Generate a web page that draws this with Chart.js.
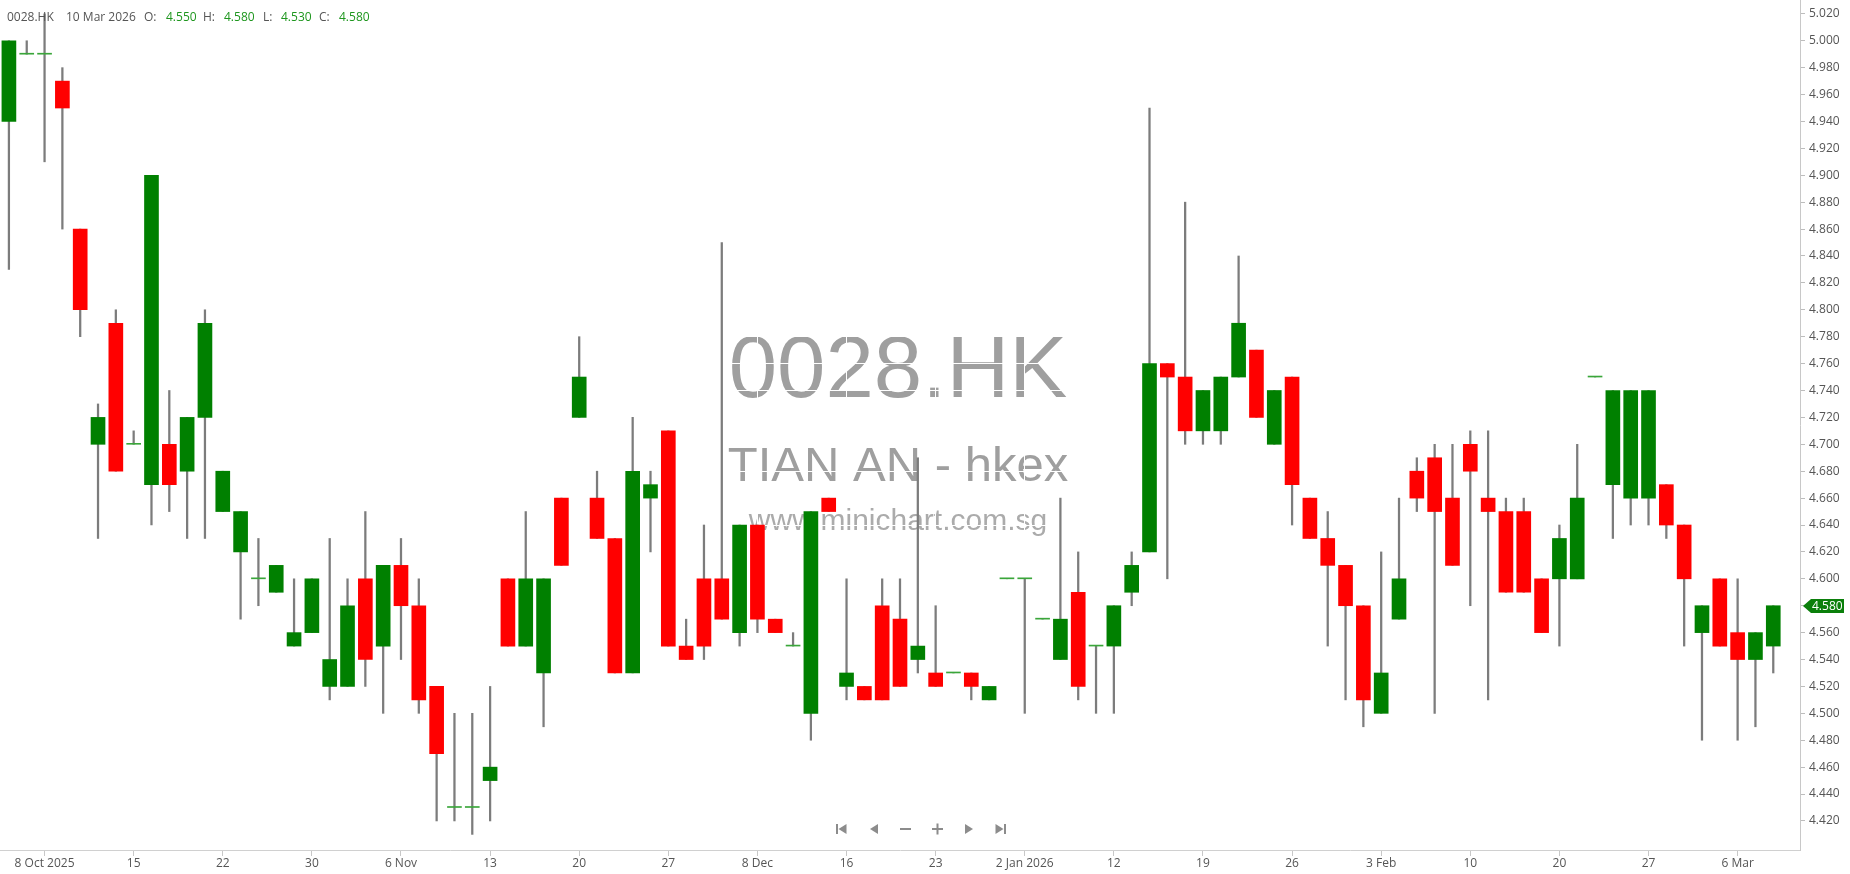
<!DOCTYPE html>
<html><head><meta charset="utf-8">
<script src="https://cdn.jsdelivr.net/npm/chart.js@4.4.1/dist/chart.umd.min.js"></script>
<style>
html,body{margin:0;padding:0;background:#fff;overflow:hidden}
#wrap{position:relative;width:1850px;height:874px}
canvas{display:block}
.hd{position:absolute;top:9px;font:12px "Open Sans",sans-serif;color:#555;white-space:nowrap;line-height:16px}
.hd.v{color:#1e961e}
</style></head><body>
<div id="wrap"><canvas id="c" width="1850" height="874"></canvas>
<span class="hd" style="left:7px">0028.HK</span>
<span class="hd" style="left:66px">10 Mar 2026</span>
<span class="hd" style="left:144px">O:</span><span class="hd v" style="left:166px">4.550</span>
<span class="hd" style="left:203px">H:</span><span class="hd v" style="left:224px">4.580</span>
<span class="hd" style="left:263px">L:</span><span class="hd v" style="left:281px">4.530</span>
<span class="hd" style="left:319px">C:</span><span class="hd v" style="left:339px">4.580</span>
</div>
<script>
const dates = [
"2025-10-03","2025-10-06","2025-10-08","2025-10-09","2025-10-10","2025-10-13","2025-10-14","2025-10-15","2025-10-16","2025-10-17",
"2025-10-20","2025-10-21","2025-10-22","2025-10-23","2025-10-24","2025-10-27","2025-10-28","2025-10-30","2025-10-31",
"2025-11-03","2025-11-04","2025-11-05","2025-11-06","2025-11-07","2025-11-10","2025-11-11","2025-11-12","2025-11-13","2025-11-14",
"2025-11-17","2025-11-18","2025-11-19","2025-11-20","2025-11-21","2025-11-24","2025-11-25","2025-11-26","2025-11-27","2025-11-28",
"2025-12-01","2025-12-02","2025-12-03","2025-12-08","2025-12-09","2025-12-10","2025-12-11","2025-12-15","2025-12-16","2025-12-17",
"2025-12-18","2025-12-19","2025-12-22","2025-12-23","2025-12-24","2025-12-29","2025-12-30","2025-12-31",
"2026-01-02","2026-01-05","2026-01-06","2026-01-07","2026-01-09","2026-01-12","2026-01-13","2026-01-14","2026-01-15","2026-01-16",
"2026-01-19","2026-01-20","2026-01-21","2026-01-22","2026-01-23","2026-01-26","2026-01-27","2026-01-28","2026-01-29","2026-01-30",
"2026-02-03","2026-02-04","2026-02-05","2026-02-06","2026-02-09","2026-02-10","2026-02-11","2026-02-12","2026-02-13","2026-02-16",
"2026-02-20","2026-02-23","2026-02-24","2026-02-25","2026-02-26","2026-02-27",
"2026-03-02","2026-03-03","2026-03-04","2026-03-05","2026-03-06","2026-03-09","2026-03-10"];

const opens = [4.94,4.99,4.99,4.97,4.86,4.70,4.79,4.70,4.67,4.70,
4.68,4.72,4.65,4.62,4.60,4.59,4.55,4.56,4.52,4.52,
4.60,4.55,4.61,4.58,4.52,4.43,4.43,4.45,4.60,4.55,
4.53,4.66,4.72,4.66,4.63,4.53,4.66,4.71,4.55,4.60,
4.60,4.56,4.64,4.57,4.55,4.50,4.66,4.52,4.52,4.58,
4.57,4.54,4.53,4.53,4.53,4.51,4.60,4.60,4.57,4.54,
4.59,4.55,4.55,4.59,4.62,4.76,4.75,4.71,4.71,4.75,
4.77,4.70,4.75,4.66,4.63,4.61,4.58,4.50,4.57,4.68,
4.69,4.66,4.70,4.66,4.65,4.65,4.60,4.60,4.60,4.75,
4.67,4.66,4.66,4.67,4.64,4.56,4.60,4.56,4.54,4.55];
const highs = [5.00,5.00,5.02,4.98,4.86,4.73,4.80,4.71,4.90,4.74,
4.72,4.80,4.68,4.65,4.63,4.61,4.60,4.60,4.63,4.60,
4.65,4.61,4.63,4.60,4.52,4.50,4.50,4.52,4.60,4.65,
4.60,4.66,4.78,4.68,4.63,4.72,4.68,4.71,4.57,4.64,
4.85,4.64,4.64,4.57,4.56,4.65,4.66,4.60,4.52,4.60,
4.60,4.69,4.58,4.53,4.53,4.52,4.60,4.60,4.57,4.66,
4.62,4.55,4.58,4.62,4.95,4.76,4.88,4.74,4.75,4.84,
4.77,4.74,4.75,4.66,4.65,4.61,4.58,4.62,4.66,4.69,
4.70,4.70,4.71,4.71,4.66,4.66,4.60,4.64,4.70,4.75,
4.74,4.74,4.74,4.67,4.64,4.58,4.60,4.60,4.56,4.58];
const lows = [4.83,4.99,4.91,4.86,4.78,4.63,4.68,4.70,4.64,4.65,
4.63,4.63,4.65,4.57,4.58,4.59,4.55,4.56,4.51,4.52,
4.52,4.50,4.54,4.50,4.42,4.42,4.41,4.42,4.55,4.55,
4.49,4.61,4.72,4.63,4.53,4.53,4.62,4.55,4.54,4.54,
4.57,4.55,4.56,4.56,4.55,4.48,4.65,4.51,4.51,4.51,
4.52,4.53,4.52,4.53,4.51,4.51,4.60,4.50,4.57,4.54,
4.51,4.50,4.50,4.58,4.62,4.60,4.70,4.70,4.70,4.75,
4.72,4.70,4.64,4.63,4.55,4.51,4.49,4.50,4.57,4.65,
4.50,4.61,4.58,4.51,4.59,4.59,4.56,4.55,4.60,4.75,
4.63,4.64,4.64,4.63,4.55,4.48,4.55,4.48,4.49,4.53];
const closes = [5.00,4.99,4.99,4.95,4.80,4.72,4.68,4.70,4.90,4.67,
4.72,4.79,4.68,4.65,4.60,4.61,4.56,4.60,4.54,4.58,
4.54,4.61,4.58,4.51,4.47,4.43,4.43,4.46,4.55,4.60,
4.60,4.61,4.75,4.63,4.53,4.68,4.67,4.55,4.54,4.55,
4.57,4.64,4.57,4.56,4.55,4.65,4.65,4.53,4.51,4.51,
4.52,4.55,4.52,4.53,4.52,4.52,4.60,4.60,4.57,4.57,
4.52,4.55,4.58,4.61,4.76,4.75,4.71,4.74,4.75,4.79,
4.72,4.74,4.67,4.63,4.61,4.58,4.51,4.53,4.60,4.66,
4.65,4.61,4.68,4.65,4.59,4.59,4.56,4.63,4.66,4.75,
4.74,4.74,4.74,4.64,4.60,4.58,4.55,4.54,4.56,4.58];

const tickIdx  = [2,7,12,17,22,27,32,37,42,47,52,57,62,67,72,77,82,87,92,97];
const tickText = ["8 Oct 2025","15","22","30","6 Nov","13","20","27","8 Dec","16","23","2 Jan 2026","12","19","26","3 Feb","10","20","27","6 Mar"];
const yTicks = [4.42,4.44,4.46,4.48,4.50,4.52,4.54,4.56,4.58,4.60,4.62,4.64,4.66,4.68,4.70,4.72,4.74,4.76,4.78,4.80,4.82,4.84,4.86,4.88,4.90,4.92,4.94,4.96,4.98,5.00,5.02];

const symbol = "0028.HK";
const company = "TIAN AN - hkex";
const site = "www.minichart.com.sg";

const last = closes.length - 1;
const bodyData = dates.map((d,i)=>({x:i, y:[opens[i], closes[i]]}));
const wickData = dates.map((d,i)=>({x:i, y:[lows[i], highs[i]]}));
const bodyColor = i => opens[i] === closes[i] ? '#3aa63a' : (closes[i] > opens[i] ? '#008000' : '#ff0000');

const watermark = {
  id:'watermark',
  beforeDraw(chart){
    const ctx = chart.ctx; ctx.save();
    ctx.textAlign='center'; ctx.textBaseline='alphabetic';
    const cx = 898;
    ctx.fillStyle='#9f9f9f';
    ctx.font='87px "Liberation Sans", Arial, sans-serif';
    ctx.fillText(symbol, cx, 397);
    ctx.font='49px "Liberation Sans", Arial, sans-serif';
    ctx.fillText(company, cx, 481);
    ctx.fillStyle='#ababab';
    ctx.font='30px "Liberation Sans", Arial, sans-serif';
    ctx.fillText(site, cx, 530);
    ctx.restore();
  }
};

const overlay = {
  id:'overlay',
  afterDraw(chart){
    const ctx = chart.ctx; const ys = chart.scales.y;
    const y = Math.round(ys.getPixelForValue(closes[last]));
    const x0 = ys.left + 3;
    ctx.save();
    ctx.fillStyle='#0b7f0b';
    ctx.beginPath();
    ctx.moveTo(x0, y); ctx.lineTo(x0+8, y-7); ctx.lineTo(1844, y-7); ctx.lineTo(1844, y+7); ctx.lineTo(x0+8, y+7); ctx.closePath(); ctx.fill();
    ctx.fillStyle='#fff'; ctx.font='12px "Open Sans", sans-serif'; ctx.textBaseline='middle'; ctx.textAlign='left';
    ctx.fillText(closes[last].toFixed(3), 1812, y+1);
    // navigation icons
    ctx.fillStyle='#8c8c8c';
    const cy = 829;
    const tri = (x, dir) => { ctx.beginPath(); ctx.moveTo(x - 4*dir, cy); ctx.lineTo(x + 4*dir, cy-5); ctx.lineTo(x + 4*dir, cy+5); ctx.closePath(); ctx.fill(); };
    ctx.fillRect(836, cy-5, 2, 10); tri(842.5, 1);
    tri(874, 1);
    ctx.fillRect(900, cy-1, 11, 2);
    ctx.fillRect(932, cy-1, 11, 2); ctx.fillRect(936.5, cy-5.5, 2, 11);
    tri(969, -1);
    tri(999.5, -1); ctx.fillRect(1004, cy-5, 2, 10);
    ctx.restore();
  }
};

new Chart(document.getElementById('c'), {
  type:'bar',
  data:{
    datasets:[
      {label:'body', data:bodyData, grouped:false, order:0, barThickness:14, minBarLength:1,
       backgroundColor: c => bodyColor(c.dataIndex), borderWidth:0},
      {label:'wick', data:wickData, grouped:false, order:1, barThickness:1.6,
       backgroundColor:'#7c7c7c', borderWidth:0}
    ]
  },
  options:{
    responsive:false, animation:false, events:[],
    layout:{padding:0},
    plugins:{legend:{display:false}, tooltip:{enabled:false}},
    scales:{
      x:{type:'linear', min:-0.5, max:dates.length+0.5, offset:false,
        afterBuildTicks:s=>{ s.ticks = tickIdx.map(v=>({value:v})); },
        afterFit:s=>{ s.height = 24; s.paddingLeft = 0; s.paddingRight = 0; },
        grid:{color:'#ffffff', offset:false, drawTicks:true, tickLength:6, tickColor:'#c8c8c8'},
        border:{color:'#d0d0d0'},
        ticks:{autoSkip:false, maxRotation:0, padding:0, color:'#555',
          font:{family:'Open Sans', size:12}, callback:(v,i)=>tickText[i]}
      },
      y:{position:'right', min:4.3984, max:5.0303,
        afterBuildTicks:s=>{ s.ticks = yTicks.map(v=>({value:v})); },
        afterFit:s=>{ s.width = 50; s.paddingTop = 0; s.paddingBottom = 0; },
        grid:{color:'#ffffff', offset:false, drawTicks:true, tickLength:5, tickColor:'#bdbdbd'},
        border:{color:'#c8c8c8'},
        ticks:{padding:4, font:{family:'Open Sans', size:12},
          color: c => (c.tick && c.tick.value === closes[last]) ? 'rgba(0,0,0,0)' : '#555',
          callback:v=>Number(v).toFixed(3)}
      }
    }
  },
  plugins:[watermark, overlay]
});
</script>
</body></html>
